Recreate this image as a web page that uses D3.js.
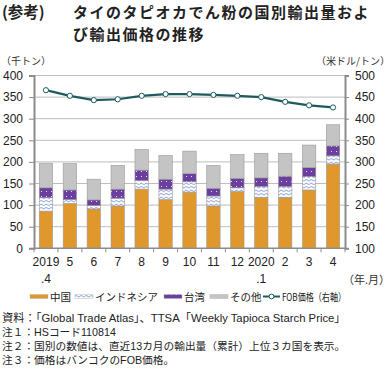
<!DOCTYPE html>
<html><head><meta charset="utf-8">
<script src="https://cdn.jsdelivr.net/npm/d3@7"></script>
<style>
body{margin:0;background:#fff;}
text{font-family:"Liberation Sans","Noto Sans CJK JP",sans-serif;}
.jp{font-family:"Noto Sans CJK JP","Liberation Sans",sans-serif;}
</style></head>
<body><svg id="c" width="390" height="369"></svg>
<script>
const months = ["2019\n.4","5","6","7","8","9","10","11","12","2020\n.1","2","3","4"];
const china = [86,104,91,98,137,113,130,98,131,118,118,135,195];
const indonesia = [31,9,8,18,20,24,24,23,9,25,25,31,19];
const taiwan = [23,22,13,21,24,23,19,18,22,20,24,21,23];
const other = [57,61,48,55,48,55,52,53,55,57,53,52,49];
const fob = [466,453,443,445,453,457,457,455,453,450,439,431,426];
const leftTicks = [0,50,100,150,200,250,300,350,400];
const rightTicks = [100,150,200,250,300,350,400,450,500];
const seriesNames = ["中国","インドネシア","台湾","その他"];

const svg = d3.select("#c");
const defs = svg.append("defs");
const pw = defs.append("pattern").attr("id","wave").attr("patternUnits","userSpaceOnUse").attr("width",5).attr("height",3.5);
pw.append("rect").attr("width",5).attr("height",3.5).attr("fill","#fff");
pw.append("path").attr("d","M0,1.75 Q1.25,0.4 2.5,1.75 T5,1.75").attr("fill","none").attr("stroke","#7f95d0").attr("stroke-width",0.9);
const pd = defs.append("pattern").attr("id","dots").attr("patternUnits","userSpaceOnUse").attr("width",5).attr("height",5);
pd.append("rect").attr("width",5).attr("height",5).attr("fill","#6b3fa0");
pd.append("rect").attr("x",1).attr("y",1).attr("width",1).attr("height",1).attr("fill","#e8dff5");
const fills = ["#e0982c","url(#wave)","url(#dots)","#c4c4c4"];

const L = 34, R = 345, T = 75.5, B = 248.3;
const x = d3.scaleBand().domain(d3.range(months.length)).range([L,R]).paddingInner(0.44).paddingOuter(0.22);
const y = d3.scaleLinear().domain([0,400]).range([B,T]);
const y2 = d3.scaleLinear().domain([100,500]).range([B,T]);

svg.append("g").selectAll("line").data(leftTicks.filter(d=>d>0)).join("line")
  .attr("x1",L).attr("x2",R).attr("y1",d=>y(d)).attr("y2",d=>y(d))
  .attr("stroke","#bdbdbd").attr("stroke-width",1);

const data = months.map((m,i)=>({i,中国:china[i],インドネシア:indonesia[i],台湾:taiwan[i],その他:other[i]}));
const stack = d3.stack().keys(seriesNames)(data);
stack.forEach((s,k)=>{
  svg.append("g").selectAll("rect").data(s).join("rect")
    .attr("x",d=>x(d.data.i)).attr("width",x.bandwidth())
    .attr("y",d=>y(d[1])).attr("height",d=>y(d[0])-y(d[1]))
    .attr("fill",fills[k]).attr("stroke","#9a9a9a").attr("stroke-width",0.6);
});

const gl = svg.append("g").attr("transform",`translate(${L},0)`)
  .call(d3.axisLeft(y).tickValues(leftTicks).tickSize(5).tickPadding(4));
gl.select(".domain").attr("stroke","#8c8c8c").attr("stroke-width",2);
gl.selectAll(".tick line").attr("stroke","#8c8c8c");
gl.selectAll("text").attr("font-size",12).attr("fill","#222").attr("dx",-2);

const gr = svg.append("g").attr("transform",`translate(${R},0)`)
  .call(d3.axisRight(y2).tickValues(rightTicks).tickSize(4).tickPadding(6));
gr.select(".domain").attr("stroke","#8c8c8c").attr("stroke-width",2);
gr.selectAll(".tick line").attr("stroke","#8c8c8c");
gr.selectAll("text").attr("font-size",12).attr("fill","#222");

svg.append("line").attr("x1",L).attr("x2",R).attr("y1",B).attr("y2",B).attr("stroke","#8c8c8c").attr("stroke-width",1.5);
svg.append("g").selectAll("line").data(d3.range(months.length+1)).join("line")
  .attr("x1",d=>L+d*(R-L)/months.length).attr("x2",d=>L+d*(R-L)/months.length)
  .attr("y1",B).attr("y2",B+4).attr("stroke","#8c8c8c");
const xl = svg.append("g").selectAll("text").data(months).join("text")
  .attr("text-anchor","middle").attr("font-size",12).attr("fill","#222")
  .attr("x",(d,i)=>x(i)+x.bandwidth()/2).attr("y",266);
xl.each(function(d){
  const parts = d.split("\n");
  const t = d3.select(this);
  parts.forEach((p,j)=>t.append("tspan").attr("x",t.attr("x")).attr("dy",j?17:0).text(p));
});

const line = d3.line().x((d,i)=>x(i)+x.bandwidth()/2).y(d=>y2(d));
svg.append("path").datum(fob).attr("d",line).attr("fill","none").attr("stroke","#1e5a5e").attr("stroke-width",2.2);
svg.append("g").selectAll("circle").data(fob).join("circle")
  .attr("cx",(d,i)=>x(i)+x.bandwidth()/2).attr("cy",d=>y2(d)).attr("r",2.6)
  .attr("fill","#fff").attr("stroke","#1e5a5e").attr("stroke-width",1);

// titles
svg.append("text").attr("class","jp").attr("x",2).attr("y",18).attr("font-size",15.5).attr("font-weight","bold").attr("fill","#222").text("(参考)");
svg.append("text").attr("class","jp").attr("x",73).attr("y",17.5).attr("font-size",15).attr("letter-spacing",1.5).attr("font-weight","bold").attr("fill","#222").text("タイのタピオカでん粉の国別輸出量およ");
svg.append("text").attr("class","jp").attr("x",73).attr("y",39.5).attr("font-size",15).attr("letter-spacing",1.5).attr("font-weight","bold").attr("fill","#222").text("び輸出価格の推移");
svg.append("text").attr("class","jp").attr("x",1).attr("y",65).attr("font-size",10).attr("fill","#333").text("（千トン）");
svg.append("text").attr("class","jp").attr("x",390).attr("y",65).attr("text-anchor","end").attr("font-size",10).attr("fill","#333").text("（米ドル/トン）");
svg.append("text").attr("class","jp").attr("x",390).attr("y",284).attr("text-anchor","end").attr("font-size",11).attr("fill","#333").text("（年.月）");

// legend
const lg = svg.append("g").attr("transform","translate(0,298)");
const items = [
  {name:"中国",x:30,f:fills[0]},
  {name:"インドネシア",x:75,f:fills[1]},
  {name:"台湾",x:164,f:fills[2]},
  {name:"その他",x:210,f:fills[3]}
];
items.forEach(it=>{
  lg.append("rect").attr("x",it.x).attr("y",-3.5).attr("width",18).attr("height",4).attr("fill",it.f).attr("stroke","#aaa").attr("stroke-width",0.4);
  lg.append("text").attr("class","jp").attr("x",it.x+20).attr("y",2.5).attr("font-size",10.5).attr("fill","#222").text(it.name);
});
lg.append("line").attr("x1",263).attr("x2",280).attr("y1",-1.5).attr("y2",-1.5).attr("stroke","#1e5a5e").attr("stroke-width",2);
lg.append("circle").attr("cx",271.5).attr("cy",-1.5).attr("r",2.4).attr("fill","#fff").attr("stroke","#1e5a5e");
lg.append("text").attr("class","jp").attr("x",282).attr("y",2.5).attr("font-size",10.5)
  .attr("textLength",64).attr("lengthAdjust","spacingAndGlyphs").attr("fill","#222").text("FOB価格（右軸）");

// notes
const notes = [
  "資料：「Global Trade Atlas」、TTSA「Weekly Tapioca Starch Price」",
  "注１：HSコード110814",
  "注２：国別の数値は、直近13カ月の輸出量（累計）上位３カ国を表示。",
  "注３：価格はバンコクのFOB価格。"
];
svg.append("g").selectAll("text").data(notes).join("text")
  .attr("x",2).attr("y",(d,i)=>322+i*14).attr("font-size",(d,i)=>i===0?11.3:10.7).attr("fill","#222").text(d=>d);
</script></body></html>
